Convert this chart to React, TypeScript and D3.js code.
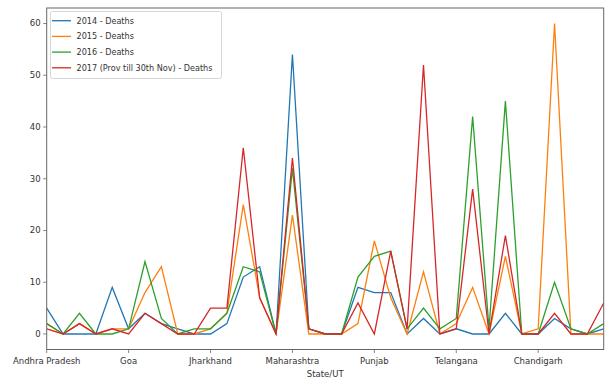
import React from "react";
import * as d3 from "d3";

const categories = [
  "Andhra Pradesh", "Arunachal Pradesh", "Assam", "Bihar", "Chhattisgarh",
  "Goa", "Gujarat", "Haryana", "Himachal Pradesh", "Jammu & Kashmir",
  "Jharkhand", "Karnataka", "Kerala", "Madhya Pradesh", "Manipur",
  "Maharashtra", "Meghalaya", "Mizoram", "Nagaland", "Odisha",
  "Punjab", "Rajasthan", "Sikkim", "Tamil Nadu", "Tripura",
  "Telangana", "Uttar Pradesh", "Uttarakhand", "West Bengal", "A & N Islands",
  "Chandigarh", "D & N Haveli", "Daman & Diu", "Delhi", "Puducherry",
];

const seriesNames = [
  "2014 - Deaths",
  "2015 - Deaths",
  "2016 - Deaths",
  "2017 (Prov till 30th Nov) - Deaths",
];

const deaths2014 = [5, 0, 0, 0, 9, 1, 4, 2, 1, 0, 0, 2, 11, 13, 0, 54, 1, 0, 0, 9, 8, 8, 0, 3, 0, 1, 0, 0, 4, 0, 0, 3, 1, 0, 1];
const deaths2015 = [2, 0, 2, 0, 1, 1, 8, 13, 0, 0, 1, 4, 25, 7, 0, 23, 0, 0, 0, 2, 18, 7, 0, 12, 0, 2, 9, 0, 15, 0, 1, 60, 0, 0, 0];
const deaths2016 = [2, 0, 4, 0, 0, 1, 14, 3, 0, 1, 1, 4, 13, 12, 0, 32, 1, 0, 0, 11, 15, 16, 1, 5, 1, 3, 42, 1, 45, 0, 0, 10, 1, 0, 2];
const deaths2017 = [1, 0, 2, 0, 1, 0, 4, 2, 0, 0, 5, 5, 36, 7, 0, 34, 1, 0, 0, 6, 0, 16, 1, 52, 0, 1, 28, 0, 19, 0, 0, 4, 0, 0, 6];

const yTicks = [0, 10, 20, 30, 40, 50, 60];
const xTickEvery = 5;
const xLabel = "State/UT";

const colors = ["#1f77b4", "#ff7f0e", "#2ca02c", "#d62728"];

export default function App() {
  const W = 605, H = 379;
  const left = 46.7, right = 603.7, top = 8, bottom = 349.5;
  const series = [deaths2014, deaths2015, deaths2016, deaths2017];

  const x = d3.scaleLinear().domain([0, categories.length - 1]).range([left, right]);
  const y = d3.scaleLinear().domain([-3, 63]).range([bottom, top]);
  const line = d3.line<number>().x((_, i) => x(i)).y((d) => y(d));

  const xTicks = d3.range(0, categories.length, xTickEvery);
  const font = "'DejaVu Sans', sans-serif";
  const textColor = "#333";
  const fs = 8.5;
  const legendFs = 8.1;

  return (
    <svg width={W} height={H} style={{ position: "absolute", left: 0, top: 0, background: "#fff" }} fontFamily={font}>
      <defs>
        <clipPath id="plotclip">
          <rect x={left} y={top} width={right - left} height={bottom - top} />
        </clipPath>
      </defs>
      <g clipPath="url(#plotclip)">
        {series.map((s, k) => (
          <path key={k} d={line(s) || ""} fill="none" stroke={colors[k]} strokeWidth={1.3} strokeLinejoin="miter" />
        ))}
      </g>
      <rect x={left} y={top} width={right - left} height={bottom - top} fill="none" stroke="#666" strokeWidth={1} />
      {yTicks.map((t) => (
        <g key={t}>
          <line x1={left - 3.5} x2={left} y1={y(t)} y2={y(t)} stroke="#666" strokeWidth={0.8} />
          <text x={left - 6} y={y(t)} dy="0.35em" textAnchor="end" fontSize={fs} fill={textColor}>{t}</text>
        </g>
      ))}
      {xTicks.map((i) => (
        <g key={i}>
          <line x1={x(i)} x2={x(i)} y1={bottom} y2={bottom + 3.5} stroke="#666" strokeWidth={0.8} />
          <text x={x(i)} y={bottom + 14.5} textAnchor="middle" fontSize={fs} fill={textColor}>{categories[i]}</text>
        </g>
      ))}
      <text x={(left + right) / 2} y={bottom + 27.5} textAnchor="middle" fontSize={fs} fill={textColor}>{xLabel}</text>
      <g>
        <rect x={50.5} y={11.5} width={171} height={67} rx={2} fill="#fff" fillOpacity={0.8} stroke="#ccc" strokeWidth={0.8} />
        {seriesNames.map((n, k) => (
          <g key={n} transform={`translate(0, ${20.7 + k * 15.7})`}>
            <line x1={52} x2={71} y1={0} y2={0} stroke={colors[k]} strokeWidth={1.3} />
            <text x={76.5} y={0} dy="0.35em" fontSize={legendFs} fill={textColor}>{n}</text>
          </g>
        ))}
      </g>
    </svg>
  );
}
